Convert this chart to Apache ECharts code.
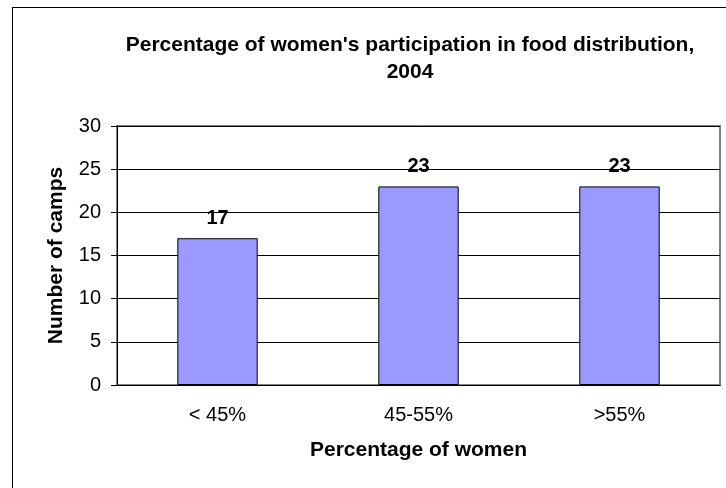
<!DOCTYPE html>
<html lang="en">
<head>
    <meta charset="UTF-8">
    <title>Women's participation</title>
    <script src="https://cdn.jsdelivr.net/npm/echarts@6/dist/echarts.min.js"></script>
    <style>
        body { margin: 0; background: #fff; }
        #frame { position: absolute; left: 12px; top: 7px; width: 740px; height: 500px; border: 1px solid #000; }
        #main { position: absolute; left: 0; top: 0; width: 726px; height: 488px; }
    </style>
</head>
<body>
<div id="frame"></div>
<div id="main"></div>
<script>
    const categories = ['< 45%', '45-55%', '>55%']
    const camps = [17, 23, 23]
    const yTicks = [0, 5, 10, 15, 20, 25, 30]

    const font = 'Liberation Sans, Arial, sans-serif'
    const myChart = echarts.init(document.getElementById('main'))
    const option = {
        animation: false,
        title: {
            text: "Percentage of women's participation in food distribution,\n2004",
            left: 405,
            top: 27,
            textAlign: 'center',
            textStyle: {
                fontFamily: font,
                fontSize: 21,
                fontWeight: 'bold',
                color: '#000',
                lineHeight: 27
            }
        },
        grid: {
            left: 117,
            right: 6,
            top: 126,
            bottom: 103,
            show: true,
            borderColor: '#808080',
            borderWidth: 2,
            backgroundColor: 'transparent'
        },
        xAxis: {
            type: 'category',
            data: categories,
            name: 'Percentage of women',
            nameLocation: 'middle',
            nameGap: 55,
            nameTextStyle: { fontFamily: font, fontSize: 21, fontWeight: 'bold', color: '#000' },
            axisLine: { lineStyle: { color: '#000', width: 1 } },
            axisTick: { alignWithLabel: false, length: 6, lineStyle: { color: '#000' } },
            axisLabel: { fontFamily: font, fontSize: 20, color: '#000', margin: 20 }
        },
        yAxis: {
            type: 'value',
            min: yTicks[0],
            max: yTicks[yTicks.length - 1],
            interval: 5,
            name: 'Number of camps',
            nameLocation: 'middle',
            nameGap: 50,
            nameTextStyle: { fontFamily: font, fontSize: 21, fontWeight: 'bold', color: '#000' },
            axisLine: { show: true, lineStyle: { color: '#000', width: 1 } },
            axisTick: { show: true, length: 6, lineStyle: { color: '#000' } },
            axisLabel: { fontFamily: font, fontSize: 20, color: '#000', margin: 16 },
            splitLine: { lineStyle: { color: '#000', width: 1 } }
        },
        series: [
            {
                type: 'bar',
                data: camps,
                barWidth: '40%',
                itemStyle: { color: '#9999FF', borderColor: '#000', borderWidth: 1 },
                label: {
                    show: true,
                    position: 'top',
                    distance: 10,
                    fontFamily: font,
                    fontSize: 20,
                    fontWeight: 'bold',
                    color: '#000'
                }
            }
        ]
    }
    myChart.setOption(option)
</script>
</body>
</html>
